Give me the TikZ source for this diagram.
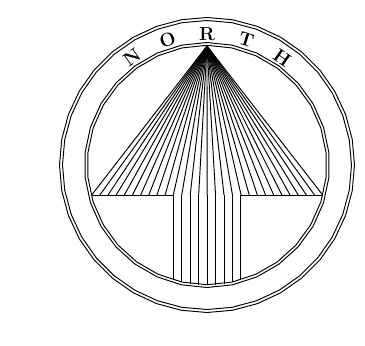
\documentclass[tikz,border=0pt]{standalone}
\tikzset{ln/.style={line width=0.95bp,black,line join=miter},
 letter/.style={font=\fontsize{19}{19}\selectfont\bfseries,inner sep=0pt}}
\newcommand{\polyring}[2]{% radius, sides
  \draw[ln] (0,-#1)
  \foreach \i in {1,...,#2}{ -- ({#1*sin(360*\i/#2)},{-#1*cos(360*\i/#2)}) } -- cycle;}
\begin{document}
\begin{tikzpicture}[x=1bp,y=1bp]
\useasboundingbox (-207,-181) rectangle (158,165);
% page origin at circle centre; 1 unit = 1 reference pixel
\polyring{147.5}{36}
\polyring{144.5}{36}
\polyring{122.5}{30}
\polyring{119.7}{30}
\coordinate (apex) at (0,119);
% barbs
\foreach \k in {0,...,10}{
  \draw[ln] (apex) -- ({-115.3+\k*8.16},-30);
  \draw[ln] (apex) -- ({115.7-\k*8.16},-30);
}
\draw[ln] (-115.3,-30) -- (-33.7,-30);
\draw[ln] (115.7,-30) -- (34,-30);
% shaft
\foreach \k in {1,...,7}{
  \draw[ln] (apex) -- ({-33.7+\k*8.45},-30);
}
\foreach \k in {0,...,8}{
  \pgfmathsetmacro{\xx}{-33.7+\k*8.45}
  \pgfmathsetmacro{\yy}{-sqrt(120*120-\xx*\xx)}
  \draw[ln] (\xx,-30) -- (\xx,\yy);
}
\foreach \t/\a in {N/35,O/17.5,R/0,T/-17.5,H/-35}{
  \node[letter,rotate=\a] at ({-131*sin(\a)},{131*cos(\a)}) {\t};
}
\end{tikzpicture}
\end{document}
